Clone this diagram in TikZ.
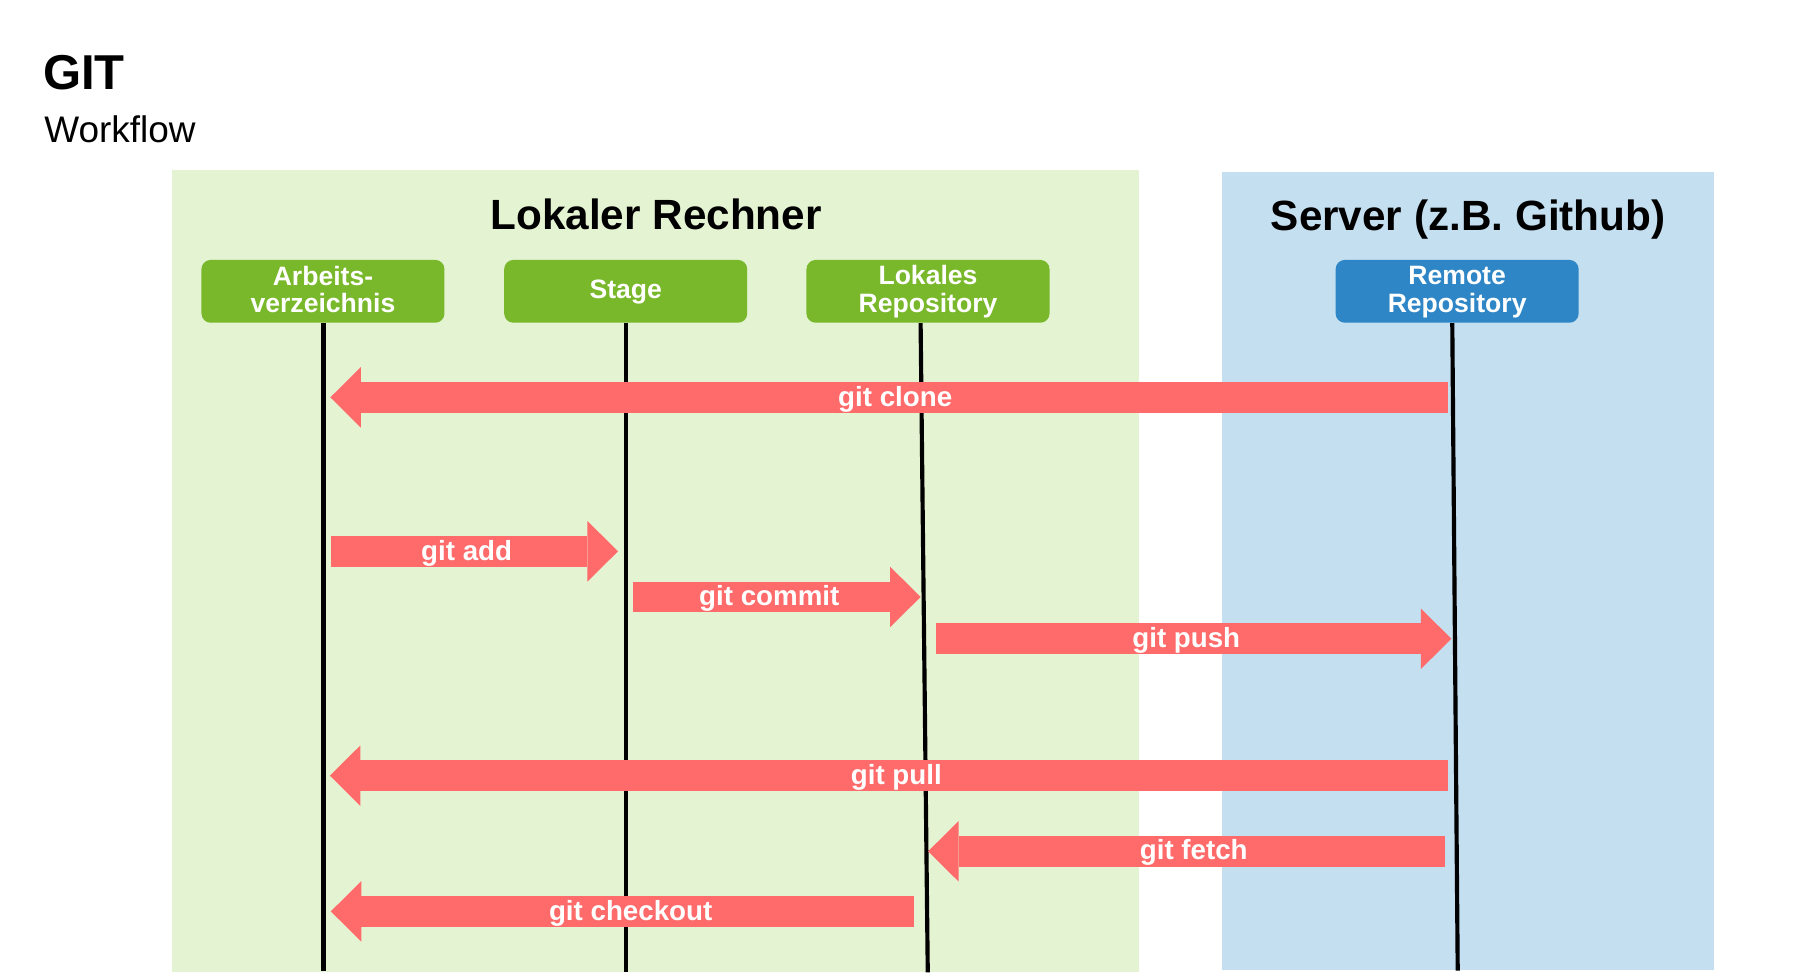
\documentclass[tikz,border=0pt]{standalone}
\usepackage{fontspec}
\setmainfont{Liberation Sans}
\usetikzlibrary{arrows.meta,calc}
\definecolor{arrowred}{HTML}{FF6B6B}
\definecolor{boxgreen}{HTML}{78B82A}
\definecolor{boxblue}{HTML}{2E86C6}
\definecolor{panelgreen}{HTML}{E4F3D1}
\definecolor{panelblue}{HTML}{C4DFF0}
\newcommand{\boxstrut}{\rule[-0.17em]{0pt}{0.92em}}
\begin{document}
\begin{tikzpicture}[x=0.5pt,y=-0.5pt,
  box/.style={rounded corners=4pt, minimum width=105.2pt, minimum height=27.2pt,
    inner sep=0pt, text=white, align=center,
    font=\bfseries\fontsize{11.5}{12}\selectfont},
  gbox/.style={box, fill=boxgreen},
  bbox/.style={box, fill=boxblue},
  life/.style={line width=1.8pt, draw=black},
  flow/.style={draw=arrowred, line width=13.25pt,
    -{Triangle[length=13.2pt,width=26.2pt,line width=0pt]}},
  flowlabel/.style={text=white, anchor=base, inner sep=0pt,
    font=\bfseries\fontsize{12}{14}\selectfont},
  paneltitle/.style={anchor=base, inner sep=0pt, font=\bfseries\fontsize{18.3}{22}\selectfont}
]
\useasboundingbox (0,0) rectangle (1567,848.4);
\fill[white] (0,0) rectangle (1567,848.4);

% titles
\node[anchor=base west, inner sep=0pt, font=\bfseries\fontsize{21.2}{25}\selectfont] (title) at (37,77.3) {GIT};
\node[anchor=base west, inner sep=0pt, font=\fontsize{16}{19}\selectfont] (subtitle) at (38,123.5) {Workflow};

% panels
\fill[panelgreen] (149,147.5) rectangle (986.5,841.3);
\fill[panelblue] (1058,149) rectangle (1484,840);
\node[paneltitle] (local) at (568,198.6) {Lokaler Rechner};
\node[paneltitle] (server) at (1271,199.7) {Server (z.B. Github)};

% boxes
\node[gbox] (arb) at (279.6,252.2) {\boxstrut Arbeits-\\verzeichnis\boxstrut};
\node[gbox] (stage) at (541.7,252.2) {\boxstrut Stage\boxstrut};
\node[gbox] (lok) at (803.4,252.2) {\boxstrut Lokales\\Repository\boxstrut};
\node[bbox] (rem) at (1261.5,252.2) {\boxstrut Remote\\Repository\boxstrut};

% lifelines
\coordinate (arb-t) at ($(arb.south)+(0.4,0)$);
\coordinate (arb-b) at (280,840.6);
\coordinate (stage-t) at ($(stage.south)+(0.6,0)$);
\coordinate (stage-b) at (542.3,841.8);
\coordinate (lok-t) at ($(lok.south)+(-6.4,0)$);
\coordinate (lok-b) at (803.2,841.8);
\coordinate (rem-t) at ($(rem.south)+(-4.2,0)$);
\coordinate (rem-b) at (1262,840.2);

\draw[life] (arb-t) -- (arb-b);
\draw[life] (stage-t) -- (stage-b);
\draw[life] (lok-t) -- (lok-b);
\draw[life] (rem-t) -- (rem-b);

% arrow end points
\coordinate (clone-s) at (1254,344);      \coordinate (clone-e) at (286,344);
\coordinate (add-s) at (286.4,477.3);     \coordinate (add-e) at (535,477.3);
\coordinate (commit-s) at (548,516.8);    \coordinate (commit-e) at (797,516.8);
\coordinate (push-s) at (810,553);        \coordinate (push-e) at (1256.5,553);
\coordinate (pull-s) at (1253.5,671.5);   \coordinate (pull-e) at (285.6,671.5);
\coordinate (fetch-s) at (1251,737);      \coordinate (fetch-e) at (803.5,737);
\coordinate (co-s) at (791.2,789);        \coordinate (co-e) at (286.4,789);

\draw[flow] (clone-s) -- (clone-e);
\draw[flow] (add-s) -- (add-e);
\draw[flow] (commit-s) -- (commit-e);
\draw[flow] (push-s) -- (push-e);
\draw[flow] (pull-s) -- (pull-e);
\draw[flow] (fetch-s) -- (fetch-e);
\draw[flow] (co-s) -- (co-e);

\node[flowlabel] (l-clone) at (775,351.5) {git clone};
\node[flowlabel] (l-add) at (404,484.8) {git add};
\node[flowlabel] (l-commit) at (666,524.3) {git commit};
\node[flowlabel] (l-push) at (1027,560.5) {git push};
\node[flowlabel] (l-pull) at (776,679) {git pull};
\node[flowlabel] (l-fetch) at (1033.5,744.5) {git fetch};
\node[flowlabel] (l-co) at (546,796.5) {git checkout};
\end{tikzpicture}
\end{document}
